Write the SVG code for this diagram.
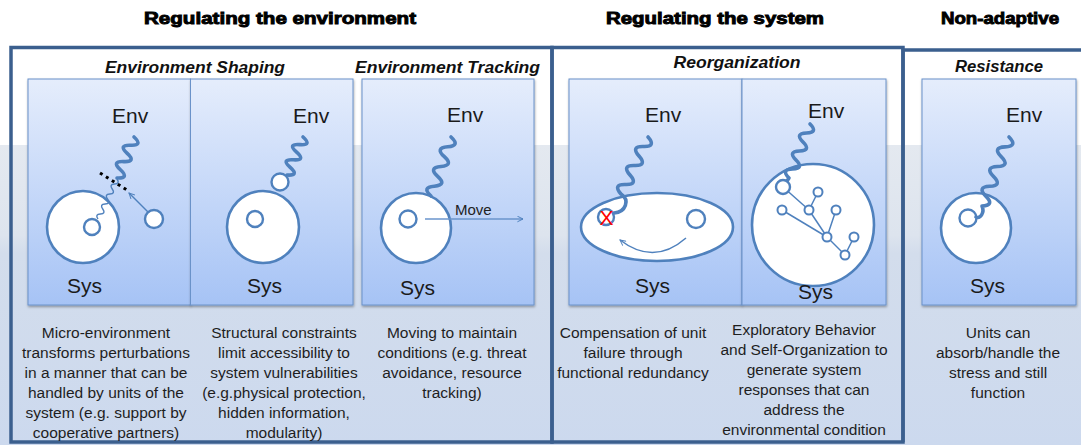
<svg xmlns="http://www.w3.org/2000/svg" width="1081" height="445" viewBox="0 0 1081 445">
<style>
.head{font-family:"Liberation Sans",Arial,sans-serif;font-weight:bold;font-size:16px;fill:#000;stroke:#000;stroke-width:0.9;text-anchor:middle}
.sub{font-family:"Liberation Sans",Arial,sans-serif;font-style:italic;font-weight:bold;font-size:16px;fill:#111;text-anchor:middle}
.lbl{font-family:"Liberation Sans",Arial,sans-serif;font-size:21px;fill:#1a1a1a}
.desc{font-family:"Liberation Sans",Arial,sans-serif;font-size:15.5px;fill:#1e1e1e;text-anchor:middle}
.panel{fill:url(#pg);stroke:#6a92c9;stroke-width:1;filter:url(#sh)}
.frame{fill:none;stroke:#3b5f8e;stroke-width:3.5}
.big{fill:#fff;stroke:#4f81bd;stroke-width:2.6}
.sm{fill:#fff;stroke:#4f81bd;stroke-width:2.4}
.tn{fill:#fff;stroke:#4f81bd;stroke-width:2}
.wave{fill:none;stroke:#4f81bd;stroke-width:3.6;stroke-linecap:round;stroke-linejoin:round}
.thin{fill:none;stroke:#4f81bd;stroke-width:1.4}
.arr{fill:none;stroke:#4f81bd;stroke-width:1.5;marker-end:url(#ah)}
.edge{stroke:#4f81bd;stroke-width:1.5}
</style>
<defs>
<linearGradient id="bg" x1="0" y1="0" x2="0" y2="1">
<stop offset="0" stop-color="#e4e9f0"/>
<stop offset="0.3" stop-color="#dde4ee"/>
<stop offset="0.36" stop-color="#d3ddec"/>
<stop offset="1" stop-color="#ccd9ee"/>
</linearGradient>
<linearGradient id="pg" x1="0" y1="0" x2="0" y2="1">
<stop offset="0" stop-color="#e5edfc"/>
<stop offset="1" stop-color="#a6c3f5"/>
</linearGradient>
<filter id="sh" x="-10%" y="-10%" width="120%" height="120%">
<feDropShadow dx="0.5" dy="1.5" stdDeviation="1.2" flood-color="#000" flood-opacity="0.35"/>
</filter>
<marker id="ah" viewBox="0 0 10 10" refX="9" refY="5" markerWidth="7" markerHeight="7" markerUnits="userSpaceOnUse" orient="auto">
<path d="M1,1 L9,5 L1,9" fill="none" stroke="#4f81bd" stroke-width="1.4"/>
</marker>
</defs>
<rect x="0" y="0" width="1081" height="445" fill="#fff"/>
<rect x="0" y="145" width="1081" height="300" fill="url(#bg)"/>

<g id="frames">
<rect class="frame" x="11" y="47.5" width="541" height="394.5"/>
<rect class="frame" x="552" y="47.5" width="351" height="394.5"/>
<path class="frame" d="M903 442 V50 H1083"/>
</g>

<g id="headings">
<text class="head" x="280" y="24" textLength="272" lengthAdjust="spacingAndGlyphs">Regulating the environment</text>
<text class="head" x="715" y="24" textLength="218" lengthAdjust="spacingAndGlyphs">Regulating the system</text>
<text class="head" x="1000" y="24" textLength="118" lengthAdjust="spacingAndGlyphs">Non-adaptive</text>
<text class="sub" x="195" y="73" textLength="180" lengthAdjust="spacingAndGlyphs">Environment Shaping</text>
<text class="sub" x="447.5" y="73" textLength="185" lengthAdjust="spacingAndGlyphs">Environment Tracking</text>
<text class="sub" x="737" y="68" textLength="127" lengthAdjust="spacingAndGlyphs">Reorganization</text>
<text class="sub" x="999" y="72" textLength="88" lengthAdjust="spacingAndGlyphs">Resistance</text>
</g>

<g id="node-shaping-1">
<rect class="panel" x="28" y="79" width="162.5" height="226"/>
<circle class="big" cx="83" cy="227" r="36"/>
<circle class="sm" cx="92" cy="227" r="8"/>
<circle class="sm" cx="154" cy="219" r="9"/>
<path class="wave" d="M134 137 Q143.4 145.7 130.6 145.2 T127.2 153.4 T123.8 161.6 T120.4 169.8 T117 178"/>
<path class="thin" d="M117 179 Q120.3 183.7 114.6 184 T112.25 189 T109.9 194 T107.5 199 T105.1 204 T102.75 209 T100.4 214 T98 219"/>
<line x1="100" y1="173" x2="127" y2="190" stroke="#000" stroke-width="3" stroke-dasharray="3 4"/>
<text class="lbl" x="112" y="123">Env</text>
<text class="lbl" x="67" y="293">Sys</text>
</g>

<g id="node-shaping-2">
<rect class="panel" x="190.5" y="79" width="162.5" height="226"/>
<circle class="big" cx="263" cy="227" r="36"/>
<circle class="sm" cx="255" cy="219" r="8"/>
<path class="wave" d="M303 137 Q312.5 145.5 299.8 144.6 T296.6 152.2 T293.4 159.8 T290.2 167.4 T287 175"/>
<circle class="sm" cx="280" cy="182" r="8.5"/>
<text class="lbl" x="293" y="123">Env</text>
<text class="lbl" x="247" y="293">Sys</text>
</g>

<g id="node-tracking">
<rect class="panel" x="362" y="79" width="172" height="226"/>
<circle class="big" cx="416" cy="228" r="35"/>
<circle class="sm" cx="408" cy="219" r="8.5"/>
<path class="wave" d="M451 137 Q460.7 145.8 447.67 146.83 T444.33 156.67 T441 166.5 T437.67 176.33 T434.33 186.17 T431 196"/>
<text class="lbl" x="447" y="122">Env</text>
<text class="lbl" x="400" y="295">Sys</text>
<text x="455" y="215" font-family="Liberation Sans, Arial, sans-serif" font-size="15" fill="#222">Move</text>
</g>

<g id="node-reorg-1">
<rect class="panel" x="569" y="79" width="173" height="226"/>
<ellipse class="big" cx="657" cy="227" rx="76" ry="34"/>
<circle class="sm" cx="606" cy="217" r="8"/>
<circle class="sm" cx="696" cy="219" r="9"/>
<path class="wave" d="M648 137 Q656.6 146.9 643.5 146.5 T639 156 T634.5 165.5 T630 175 T625.5 184.5 T621 194 C630 200 626 212 614 213"/>
<text x="606.5" y="225" font-family="Liberation Sans, Arial, sans-serif" font-size="21" fill="#ff0000" text-anchor="middle">X</text>
<text class="lbl" x="645" y="122">Env</text>
<text class="lbl" x="635" y="293">Sys</text>
</g>

<g id="node-reorg-2">
<rect class="panel" x="742" y="79" width="144" height="226"/>
<circle class="big" cx="813" cy="225" r="61"/>
<path class="wave" d="M810 124 Q818.5 132.5 806.5 133 T803 142 T799.5 151 T796 160 T792.5 169 T789 178 L787 181"/>
<text class="lbl" x="808" y="118">Env</text>
<text class="lbl" x="798" y="299">Sys</text>
</g>

<g id="node-resistance">
<rect class="panel" x="922" y="79" width="154" height="226"/>
<circle class="big" cx="976" cy="228" r="35"/>
<circle class="sm" cx="968" cy="218" r="8.5"/>
<path class="wave" d="M1009 137 Q1018.2 146.3 1005.14 146.86 T1001.29 156.71 T997.43 166.57 T993.57 176.43 T989.71 186.29 T985.86 196.14 T982 206 C985 213 980 219 976 217"/>
<text class="lbl" x="1006" y="122">Env</text>
<text class="lbl" x="970" y="293">Sys</text>
</g>

<g id="connectors">
<line class="arr" x1="148" y1="212" x2="129" y2="193"/>
<line class="arr" x1="425" y1="219" x2="523" y2="219" style="stroke:#6a94cc"/>
<path class="arr" d="M686 238 Q654 266 620 240"/>
<line class="edge" x1="783" y1="187" x2="809" y2="210"/>
<line class="edge" x1="818" y1="192" x2="809" y2="210"/>
<line class="edge" x1="782" y1="210" x2="827" y2="237"/>
<line class="edge" x1="809" y1="210" x2="827" y2="237"/>
<line class="edge" x1="836" y1="210" x2="827" y2="237"/>
<line class="edge" x1="827" y1="237" x2="845" y2="255"/>
<line class="edge" x1="854" y1="237" x2="845" y2="255"/>
</g>

<g id="tree-nodes">
<circle class="sm" cx="783" cy="187" r="7"/>
<circle class="tn" cx="818" cy="192" r="4.5"/>
<circle class="tn" cx="782" cy="210" r="4.5"/>
<circle class="tn" cx="809" cy="210" r="4.5"/>
<circle class="tn" cx="836" cy="210" r="4.5"/>
<circle class="tn" cx="827" cy="237" r="4.5"/>
<circle class="tn" cx="854" cy="237" r="4.5"/>
<circle class="tn" cx="845" cy="255" r="4.5"/>
</g>

<g id="descriptions">
<text class="desc" x="106" y="338">Micro-environment</text>
<text class="desc" x="106" y="358">transforms perturbations</text>
<text class="desc" x="106" y="378">in a manner that can be</text>
<text class="desc" x="106" y="398">handled by units of the</text>
<text class="desc" x="106" y="418">system (e.g. support by</text>
<text class="desc" x="106" y="438">cooperative partners)</text>

<text class="desc" x="284" y="338">Structural constraints</text>
<text class="desc" x="284" y="358">limit accessibility to</text>
<text class="desc" x="284" y="378">system vulnerabilities</text>
<text class="desc" x="284" y="398">(e.g.physical protection,</text>
<text class="desc" x="284" y="418">hidden information,</text>
<text class="desc" x="284" y="438">modularity)</text>

<text class="desc" x="452" y="338">Moving to maintain</text>
<text class="desc" x="452" y="358">conditions (e.g. threat</text>
<text class="desc" x="452" y="378">avoidance, resource</text>
<text class="desc" x="452" y="398">tracking)</text>

<text class="desc" x="633" y="338">Compensation of unit</text>
<text class="desc" x="633" y="358">failure through</text>
<text class="desc" x="633" y="378">functional redundancy</text>

<text class="desc" x="804" y="335">Exploratory Behavior</text>
<text class="desc" x="804" y="355">and Self-Organization to</text>
<text class="desc" x="804" y="375">generate system</text>
<text class="desc" x="804" y="395">responses that can</text>
<text class="desc" x="804" y="415">address the</text>
<text class="desc" x="804" y="435">environmental condition</text>

<text class="desc" x="998" y="338">Units can</text>
<text class="desc" x="998" y="358">absorb/handle the</text>
<text class="desc" x="998" y="378">stress and still</text>
<text class="desc" x="998" y="398">function</text>
</g>
</svg>
